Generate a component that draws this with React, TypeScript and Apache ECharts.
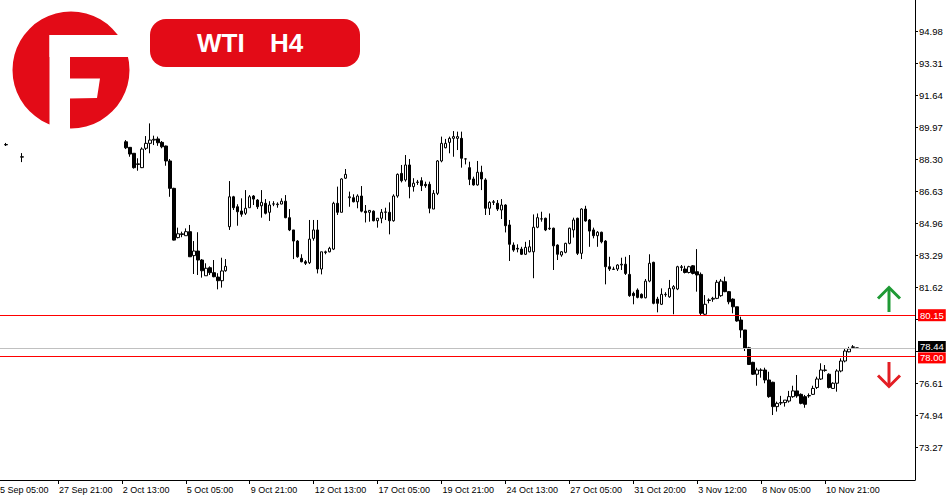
import React, { useEffect, useRef } from 'react';
import * as echarts from 'echarts';

// Empty category slots before the first bar and total slots on the axis
const LEAD_SLOTS = 2;
const TOTAL_SLOTS = 231;

// WTI H4 bars: [open, high, low, close]; null = bar hidden behind the logo
const bars: (number[] | null)[] = [
  null, [89.04, 89.14, 88.98, 89.06], null, null, null, [88.40, 88.61, 88.14, 88.42],
  null, null, null, null, null, null, null, null, null, null,
  null, null, null, null, null, null, null, null, null, null,
  null, null, null, null, null,
  [89.20, 89.29, 88.82, 88.89], // 31
  [88.91, 88.91, 88.42, 88.56],
  [88.60, 88.60, 87.80, 87.85],
  [88.02, 88.34, 87.69, 88.05],
  [87.85, 88.91, 87.83, 88.82],
  [88.86, 89.50, 88.77, 89.12],
  [89.12, 90.16, 88.60, 89.29],
  [89.29, 89.52, 89.03, 89.33],
  [89.35, 89.47, 88.99, 89.15],
  [89.17, 89.24, 88.86, 88.94], // 40
  [88.98, 89.00, 87.95, 88.20],
  [88.20, 88.30, 86.33, 86.77],
  [86.77, 86.80, 84.05, 84.07],
  [84.20, 84.72, 84.16, 84.40],
  [84.36, 84.51, 84.22, 84.40],
  [84.30, 84.68, 84.30, 84.51],
  [84.51, 84.86, 83.20, 83.20],
  [83.26, 84.02, 82.30, 83.50],
  [83.50, 84.48, 82.25, 83.03],
  [83.03, 83.08, 82.11, 82.47], // 50
  [82.21, 82.86, 82.21, 82.60],
  [82.63, 82.70, 82.25, 82.37],
  [82.37, 83.03, 82.13, 82.16],
  [82.14, 82.34, 81.50, 81.95],
  [81.95, 83.15, 81.59, 82.46],
  [82.47, 83.08, 82.42, 82.70],
  [84.77, 87.15, 84.60, 86.33],
  [86.33, 86.38, 85.64, 85.76],
  [85.81, 85.94, 84.82, 85.55],
  [85.59, 86.25, 85.29, 85.42], // 60
  [85.47, 86.68, 85.38, 85.73],
  [85.76, 86.42, 85.76, 86.33],
  [86.37, 86.42, 85.90, 86.21],
  [86.16, 86.21, 85.69, 85.81],
  [85.86, 86.68, 85.24, 86.04],
  [85.99, 86.21, 85.41, 85.47],
  [85.52, 86.10, 85.07, 85.90],
  [85.95, 86.10, 85.84, 85.96],
  [85.92, 86.04, 85.76, 85.95],
  [85.95, 86.25, 85.94, 86.10], // 70
  [86.10, 86.42, 85.21, 85.24],
  [85.24, 85.69, 84.54, 84.60],
  [84.60, 84.60, 83.08, 84.02],
  [84.02, 84.07, 83.15, 83.20],
  [83.12, 83.33, 82.91, 82.94],
  [82.94, 83.03, 82.77, 82.86],
  [82.89, 85.12, 82.82, 84.12],
  [84.16, 85.12, 84.04, 84.60],
  [84.60, 85.12, 82.33, 82.56],
  [82.56, 83.46, 82.28, 83.46], // 80
  [83.42, 83.52, 83.33, 83.46],
  [83.46, 83.72, 83.43, 83.64],
  [83.60, 86.07, 83.55, 85.99],
  [85.99, 86.86, 85.38, 85.52],
  [85.52, 87.30, 85.52, 87.26],
  [87.30, 87.78, 87.26, 87.50],
  [86.28, 86.60, 85.81, 86.33],
  [86.28, 86.46, 86.04, 86.07],
  [86.07, 86.46, 85.73, 86.37],
  [86.37, 86.89, 85.52, 85.58], // 90
  [85.58, 85.90, 84.99, 85.50],
  [85.52, 85.64, 85.03, 85.62],
  [85.58, 85.62, 85.05, 85.08],
  [85.08, 85.21, 84.72, 85.21],
  [85.21, 85.69, 84.95, 85.52],
  [85.52, 85.76, 85.12, 85.54],
  [85.52, 86.04, 84.37, 85.08],
  [85.08, 86.46, 85.03, 86.37],
  [86.37, 87.55, 86.28, 87.50],
  [87.55, 87.99, 87.08, 87.17], // 100
  [87.21, 88.51, 87.12, 87.99],
  [87.99, 88.30, 86.25, 86.86],
  [86.86, 87.30, 86.60, 87.04],
  [87.08, 87.21, 86.95, 87.10],
  [87.17, 87.35, 86.63, 86.91],
  [86.98, 87.12, 86.80, 86.91],
  [86.98, 87.12, 85.47, 85.73],
  [85.69, 86.68, 85.69, 86.51],
  [86.51, 88.25, 86.42, 88.20],
  [88.20, 89.47, 88.13, 89.12], // 110
  [88.89, 89.35, 88.86, 89.12],
  [89.17, 89.47, 88.60, 89.38],
  [89.38, 89.76, 88.42, 89.47],
  [89.38, 89.73, 88.77, 89.47],
  [89.38, 89.73, 87.85, 88.34],
  [88.30, 88.34, 88.02, 88.31],
  [87.85, 88.16, 86.94, 87.24],
  [87.26, 87.38, 86.91, 86.95],
  [86.95, 88.20, 86.91, 87.61],
  [87.61, 87.95, 86.68, 87.26], // 120
  [87.21, 87.30, 85.38, 85.73],
  [85.73, 86.10, 85.38, 86.04],
  [86.04, 86.16, 85.90, 86.07],
  [85.99, 86.16, 85.59, 85.69],
  [85.64, 86.21, 85.17, 85.90],
  [85.90, 85.94, 84.47, 84.82],
  [84.86, 85.12, 82.98, 83.85],
  [83.81, 83.95, 83.46, 83.55],
  [83.64, 83.85, 83.43, 83.60],
  [83.60, 83.72, 83.29, 83.33], // 130
  [83.33, 83.98, 83.29, 83.69],
  [83.46, 84.07, 83.43, 83.72],
  [83.46, 85.41, 82.08, 84.74],
  [84.74, 85.46, 84.69, 85.24],
  [85.17, 85.55, 85.03, 85.18],
  [85.21, 85.24, 84.54, 84.60],
  [84.66, 85.46, 84.60, 84.69],
  [84.69, 84.72, 82.51, 83.77],
  [83.81, 83.85, 83.03, 83.33],
  [83.29, 83.50, 83.20, 83.46], // 140
  [83.43, 83.93, 83.38, 83.90],
  [83.90, 84.72, 83.85, 84.69],
  [84.60, 85.24, 84.20, 85.12],
  [85.21, 85.24, 83.29, 83.38],
  [83.38, 85.73, 83.08, 85.69],
  [85.69, 85.86, 85.03, 85.07],
  [85.12, 85.17, 83.72, 84.54],
  [84.60, 84.72, 84.16, 84.30],
  [84.30, 84.54, 83.72, 84.48],
  [84.48, 84.51, 83.90, 83.98], // 150
  [84.02, 84.07, 81.76, 82.68],
  [82.68, 83.20, 82.46, 82.56],
  [82.54, 82.68, 82.51, 82.56],
  [82.56, 82.81, 82.46, 82.77],
  [82.77, 83.15, 82.51, 82.81],
  [82.81, 83.20, 82.25, 82.33],
  [82.28, 83.29, 81.11, 81.17],
  [81.29, 81.38, 80.72, 81.17],
  [81.46, 81.55, 81.03, 81.08],
  [81.24, 81.29, 81.03, 81.06], // 160
  [81.06, 82.04, 81.03, 81.93],
  [81.93, 83.33, 81.87, 82.86],
  [82.91, 82.94, 80.72, 80.77],
  [80.99, 81.11, 80.30, 80.77],
  [80.72, 81.55, 80.68, 81.24],
  [81.22, 81.35, 81.11, 81.24],
  [81.11, 81.99, 81.06, 81.55],
  [81.52, 81.72, 80.20, 81.64],
  [81.52, 82.73, 81.46, 82.68],
  [82.64, 82.77, 82.46, 82.68], // 170
  [82.56, 82.73, 82.33, 82.38],
  [82.38, 82.73, 82.33, 82.68],
  [82.73, 82.77, 82.28, 82.33],
  [82.42, 83.60, 81.38, 82.25],
  [82.28, 82.38, 80.12, 80.25],
  [80.20, 81.20, 80.12, 80.72],
  [80.92, 81.03, 80.77, 80.94],
  [80.99, 81.11, 80.85, 81.03],
  [81.03, 81.99, 80.99, 81.87],
  [81.17, 82.04, 81.11, 81.93], // 180
  [81.90, 82.16, 81.35, 81.38],
  [81.38, 81.41, 80.72, 80.85],
  [80.99, 81.03, 80.25, 80.59],
  [80.59, 80.59, 79.81, 79.85],
  [79.90, 80.07, 78.97, 79.38],
  [79.38, 79.38, 78.28, 78.42],
  [78.45, 78.50, 77.55, 77.58],
  [77.69, 77.72, 77.03, 77.07],
  [77.07, 77.41, 76.47, 77.29],
  [77.27, 77.38, 76.89, 77.29], // 190
  [77.29, 77.41, 76.60, 76.77],
  [76.77, 77.20, 75.84, 75.90],
  [76.65, 76.68, 74.94, 75.38],
  [75.38, 75.64, 75.12, 75.55],
  [75.57, 75.94, 75.46, 75.59],
  [75.59, 75.72, 75.38, 75.72],
  [75.67, 76.20, 75.59, 75.90],
  [75.90, 76.47, 75.84, 76.20],
  [76.20, 77.03, 75.84, 75.94],
  [76.02, 76.07, 75.50, 75.55], // 200
  [75.90, 75.99, 75.32, 75.50],
  [75.94, 76.07, 75.84, 75.96],
  [76.02, 76.47, 75.99, 76.33],
  [76.38, 76.94, 76.30, 76.82],
  [76.82, 77.64, 76.77, 77.29],
  [77.27, 77.55, 77.20, 77.29],
  [77.07, 77.12, 76.33, 76.38],
  [76.33, 76.65, 76.30, 76.60],
  [76.60, 77.33, 76.16, 77.24],
  [77.24, 77.90, 77.17, 77.76], // 210
  [77.76, 78.39, 77.69, 78.28],
  [78.24, 78.50, 78.21, 78.39],
  [78.47, 78.59, 78.42, 78.50],
  [78.44, 78.44, 78.44, 78.44],
];

const xTickSlots = [0, 16, 32, 48, 64, 80, 96, 112, 128, 144, 160, 176, 192, 208];
const xTickLabels = [
  '25 Sep 05:00', '27 Sep 21:00', '2 Oct 13:00', '5 Oct 05:00', '9 Oct 21:00',
  '12 Oct 13:00', '17 Oct 05:00', '19 Oct 21:00', '24 Oct 13:00', '27 Oct 05:00',
  '31 Oct 20:00', '3 Nov 12:00', '8 Nov 05:00', '10 Nov 21:00',
];

const yMin = 71.55;
const yMax = 96.6;
const yTickValues = [73.27, 74.94, 76.61, 78.28, 79.95, 81.62, 83.29, 84.96, 86.63, 88.3, 89.97, 91.64, 93.31, 94.98];
const yLabelValues = [73.27, 74.94, 76.61, 81.62, 83.29, 84.96, 86.63, 88.3, 89.97, 91.64, 93.31, 94.98];

// Horizontal levels: resistance, current price, support
const resistance = 80.15;
const currentPrice = 78.44;
const support = 78.0;

const FONT = '"Liberation Sans", Arial, sans-serif';
const RED = '#e30b17';

export default function App() {
  const ref = useRef<HTMLDivElement>(null);

  useEffect(() => {
    if (!ref.current) return;
    const chart = echarts.init(ref.current, undefined, { renderer: 'svg' });

    const categories: string[] = [];
    const candleData: any[] = [];
    for (let k = 0; k < TOTAL_SLOTS; k++) {
      categories.push(String(k));
      const b = bars[k - LEAD_SLOTS];
      candleData.push(b ? [b[0], b[3], b[2], b[1]] : '-');
    }
    const labelAt = (idx: number) => {
      const p = xTickSlots.indexOf(idx);
      return p >= 0 ? xTickLabels[p] : '';
    };
    const isTick = (idx: number) => xTickSlots.indexOf(idx) >= 0;

    const lvlLabel = (bg: string, dy: number, padTop: number) => ({
      show: true,
      position: 'end',
      distance: 3,
      offset: [0, dy],
      color: '#ffffff',
      backgroundColor: bg,
      fontFamily: FONT,
      fontSize: 9.5,
      lineHeight: 9,
      padding: [padTop, 2, 1, 2],
      formatter: (p: any) => Number(p.value).toFixed(2),
    });

    chart.setOption({
      animation: false,
      backgroundColor: '#ffffff',
      textStyle: { fontFamily: FONT },
      grid: { left: -8, right: 35, top: 0, bottom: 20, containLabel: false, outerBoundsMode: 'none' },
      xAxis: {
        type: 'category',
        data: categories,
        boundaryGap: true,
        axisLine: { show: true, lineStyle: { color: '#000', width: 1 } },
        axisTick: {
          show: true,
          alignWithLabel: true,
          interval: (idx: number) => isTick(idx),
          length: 4,
          lineStyle: { color: '#000' },
        },
        axisLabel: {
          show: true,
          interval: (idx: number) => isTick(idx),
          formatter: (_v: string, idx: number) => labelAt(idx),
          align: 'left',
          padding: [0, 0, 0, 1],
          margin: 5,
          color: '#000',
          fontSize: 9,
          fontFamily: FONT,
        },
        splitLine: { show: false },
      },
      yAxis: {
        type: 'value',
        position: 'right',
        min: yMin,
        max: yMax,
        scale: true,
        axisLine: { show: true, lineStyle: { color: '#000', width: 1 } },
        axisTick: { show: true, length: 3, customValues: yTickValues, lineStyle: { color: '#000' } },
        axisLabel: {
          show: true,
          customValues: yLabelValues,
          formatter: (v: number) => v.toFixed(2),
          margin: 4,
          color: '#000',
          fontSize: 9.5,
          fontFamily: FONT,
        },
        splitLine: { show: false },
      },
      series: [
        {
          type: 'candlestick',
          data: candleData,
          barWidth: 3,
          itemStyle: {
            color: '#ffffff',
            color0: '#000000',
            borderColor: '#000000',
            borderColor0: '#000000',
            borderColorDoji: '#000000',
            borderWidth: 1,
          },
          markLine: {
            silent: true,
            symbol: ['none', 'none'],
            precision: 2,
            z: 5,
            data: [
              { yAxis: currentPrice, lineStyle: { color: '#c0c0c0', width: 1, type: 'solid' }, label: lvlLabel('#000000', -1.5, 1) },
              { yAxis: resistance, lineStyle: { color: '#ff0000', width: 1, type: 'solid' }, label: lvlLabel('#ff0000', 0, 2) },
              { yAxis: support, lineStyle: { color: '#ff0000', width: 1, type: 'solid' }, label: lvlLabel('#ff0000', 1.5, 1) },
            ],
          },
        },
      ],
      graphic: [
        // logo
        { type: 'circle', shape: { cx: 71, cy: 70, r: 58.5 }, style: { fill: RED }, z: 100 },
        { type: 'rect', shape: { x: 49.5, y: 35, width: 20.5, height: 96 }, style: { fill: '#ffffff' }, z: 101 },
        { type: 'rect', shape: { x: 49.5, y: 35, width: 85, height: 22 }, style: { fill: '#ffffff' }, z: 101 },
        { type: 'polygon', shape: { points: [[69, 78.5], [100, 78.5], [97, 98], [69, 98.5]] }, style: { fill: '#ffffff' }, z: 101 },
        // title badge
        { type: 'rect', shape: { x: 150, y: 19, width: 210, height: 48, r: 16 }, style: { fill: RED }, z: 100 },
        { type: 'text', x: 197, y: 43, style: { text: 'WTI', fill: '#ffffff', font: `bold 26px ${FONT}`, verticalAlign: 'middle', align: 'left' }, z: 102 },
        { type: 'text', x: 270, y: 43, style: { text: 'H4', fill: '#ffffff', font: `bold 26px ${FONT}`, verticalAlign: 'middle', align: 'left' }, z: 102 },
        // up arrow
        { type: 'line', shape: { x1: 889, y1: 288, x2: 889, y2: 312 }, style: { stroke: '#1f9a35', lineWidth: 3 }, z: 100 },
        { type: 'polyline', shape: { points: [[878, 298.5], [889, 287.5], [900, 298.5]] }, style: { stroke: '#1f9a35', lineWidth: 3, fill: null }, z: 100 },
        // down arrow
        { type: 'line', shape: { x1: 889, y1: 362, x2: 889, y2: 386 }, style: { stroke: '#e31e24', lineWidth: 3 }, z: 100 },
        { type: 'polyline', shape: { points: [[878, 375.5], [889, 386.5], [900, 375.5]] }, style: { stroke: '#e31e24', lineWidth: 3, fill: null }, z: 100 },
      ],
    });

    return () => chart.dispose();
  }, []);

  return (
    <div
      ref={ref}
      style={{ position: 'absolute', left: 0, top: 0, width: 950, height: 500 }}
    />
  );
}
